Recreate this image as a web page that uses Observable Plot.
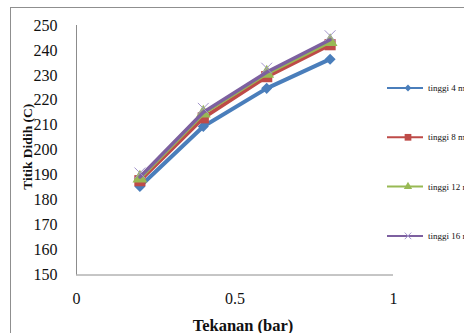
<!DOCTYPE html>
<html><head><meta charset="utf-8">
<script src="https://cdn.jsdelivr.net/npm/d3@7"></script>
<script src="https://cdn.jsdelivr.net/npm/@observablehq/plot@0.6"></script>
<style>
html,body{margin:0;padding:0;background:#fff;}
#wrap{position:relative;width:464px;height:333px;overflow:hidden;font-family:"Liberation Serif","Times New Roman",serif;background:#fff;}
#chart{position:absolute;left:0;top:0;}
#border{position:absolute;left:10px;top:7px;width:470px;height:340px;border:1px solid #8f8f8f;box-sizing:border-box;}
#legend{position:absolute;left:0;top:0;}
</style></head><body>
<div id="wrap"><div id="chart"></div><div id="border"></div><svg id="legend" width="464" height="333"></svg></div>
<script>
const pressure = [0.2, 0.4, 0.6, 0.8];
const seriesNames = ["tinggi 4 m", "tinggi 8 m", "tinggi 12 m", "tinggi 16 m"];
const tinggi4 = [185.5, 209.5, 224.8, 236.5];
const tinggi8 = [187.8, 213.0, 229.5, 242.3];
const tinggi12 = [188.8, 214.8, 230.8, 243.5];
const tinggi16 = [189.3, 215.2, 231.3, 244.3];
const xTicks = [0, 0.5, 1];
const yTicks = [150, 160, 170, 180, 190, 200, 210, 220, 230, 240, 250];
const xTitle = "Tekanan (bar)";
const yTitle = "Titik Didih (C)";

const seriesValues = [tinggi4, tinggi8, tinggi12, tinggi16];
const colors = ["#4a7ebb", "#be4b48", "#98b954", "#7d60a0"];
const symbols = ["diamond2", "square", "triangle", "times"];
const symbolR = [5, 6.3, 5.5, 5];

const rows = [];
seriesValues.forEach((vals, s) => vals.forEach((v, i) => rows.push({x: pressure[i], y: v, s: seriesNames[s]})));

const font = '"Liberation Serif","Times New Roman",serif';
const marks = [
  Plot.ruleX([0], {y1: 150, y2: 250, stroke: "#8c8c8c", strokeWidth: 1}),
  Plot.ruleY([150], {x1: 0, x2: 1, stroke: "#8c8c8c", strokeWidth: 1}),
  Plot.axisY({ticks: yTicks, tickSize: 0, tickPadding: 19, fontSize: 16, label: null, fill: "#111"}),
  Plot.axisX({ticks: xTicks, tickSize: 0, tickPadding: 18, fontSize: 16, label: null, fill: "#111", tickFormat: d => String(d)}),
];
seriesNames.forEach((name, s) => {
  const data = rows.filter(r => r.s === name);
  marks.push(Plot.line(data, {x: "x", y: "y", stroke: colors[s], strokeWidth: s === 3 ? 3.5 : 4}));
  if (symbols[s] === "times") {
    marks.push(Plot.dot(data, {x: "x", y: "y", symbol: "times", r: symbolR[s], stroke: "#a395cc", strokeWidth: 1, fill: "none", dy: -4}));
  } else {
    marks.push(Plot.dot(data, {x: "x", y: "y", symbol: symbols[s], r: symbolR[s], fill: colors[s], stroke: "none"}));
  }
});
marks.push(Plot.text([yTitle], {frameAnchor: "left", text: d => d, rotate: -90, textAnchor: "middle", lineAnchor: "middle", dx: -49, dy: -3.5, fontSize: 13.5, fontWeight: "bold", fill: "#111"}));
marks.push(Plot.text([xTitle], {frameAnchor: "bottom", text: d => d, textAnchor: "middle", lineAnchor: "top", dx: 8, dy: 44, fontSize: 16.5, fontWeight: "bold", fill: "#111", style: "letter-spacing:1.5px"}));

const chart = Plot.plot({
  width: 464, height: 333,
  marginLeft: 76, marginRight: 71, marginTop: 25, marginBottom: 58.5,
  x: {domain: [0, 1]},
  y: {domain: [150, 250]},
  style: {fontFamily: font, background: "transparent", overflow: "visible"},
  marks
});
document.getElementById("chart").appendChild(chart);

// legend
const leg = d3.select("#legend");
seriesNames.forEach((name, s) => {
  const y = 88 + s * 49.3;
  const g = leg.append("g");
  g.append("line").attr("x1", 387).attr("x2", 423).attr("y1", y).attr("y2", y).attr("stroke", colors[s]).attr("stroke-width", 2);
  if (symbols[s] === "times") {
    g.append("path").attr("d", d3.symbol(d3.symbolTimes, 30)()).attr("transform", `translate(408,${y})`).attr("stroke", "#a395cc").attr("fill", "none").attr("stroke-width", 1);
  } else {
    const sym = symbols[s] === "diamond2" ? d3.symbolDiamond2 : symbols[s] === "square" ? d3.symbolSquare : d3.symbolTriangle;
    g.append("path").attr("d", d3.symbol(sym, s === 1 ? 45 : 30)()).attr("transform", `translate(408,${y})`).attr("fill", colors[s]);
  }
  g.append("text").attr("x", 428).attr("y", y + 3).attr("font-size", 9).attr("font-family", font).attr("fill", "#111").text(name);
});
</script>
</body></html>
